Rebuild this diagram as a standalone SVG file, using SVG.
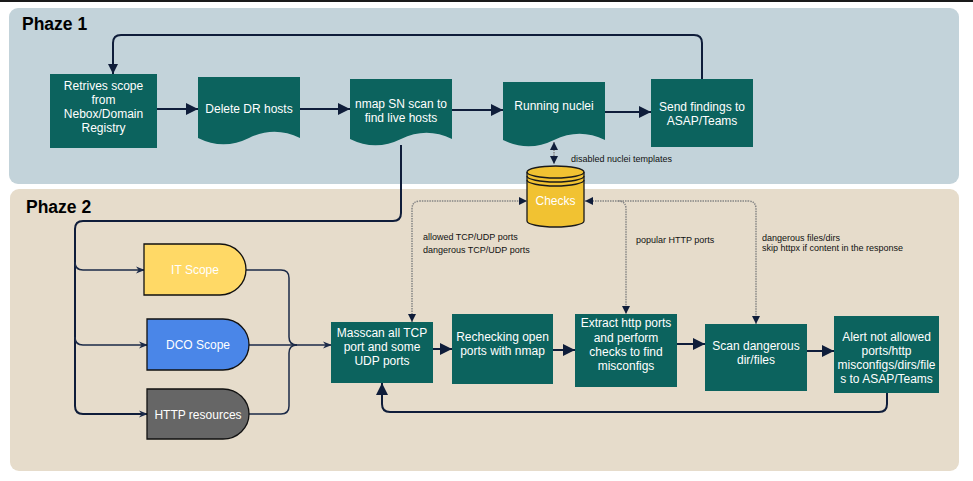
<svg xmlns="http://www.w3.org/2000/svg" width="973" height="481" viewBox="0 0 973 481">
<defs>
<style>
.lbl{font-family:"Liberation Sans",Arial,sans-serif;font-size:12px;fill:#ffffff;text-anchor:middle}
.note{font-family:"Liberation Sans",Arial,sans-serif;font-size:9px;fill:#111111}
.title{font-family:"Liberation Sans",Arial,sans-serif;font-size:17.5px;font-weight:bold;fill:#000000}
.box{fill:#0c635e}
.flow{fill:none;stroke:#0f1d3a;stroke-width:2}
.thin{fill:none;stroke:#1b2a48;stroke-width:1.5}
.dot{fill:none;stroke:#858585;stroke-width:1.5;stroke-dasharray:1.5 1}
.delay{stroke:#111111;stroke-width:1.3}
</style>
<marker id="big" viewBox="0 0 12 12" refX="12" refY="6" markerWidth="12" markerHeight="12" markerUnits="userSpaceOnUse" orient="auto">
<path d="M0,0 L12,6 L0,12 Z" fill="#0f1d3a"/>
</marker>
<marker id="mid" viewBox="0 0 10 10" refX="10" refY="5" markerWidth="10" markerHeight="10" markerUnits="userSpaceOnUse" orient="auto">
<path d="M0,0 L10,5 L0,10 Z" fill="#0f1d3a"/>
</marker>
<marker id="open" viewBox="0 0 10 10" refX="9" refY="5" markerWidth="9" markerHeight="9" markerUnits="userSpaceOnUse" orient="auto">
<path d="M0,1 L10,5 L0,9 L3,5 Z" fill="#1b2a48"/>
</marker>
<marker id="sm" viewBox="0 0 8 8" refX="8" refY="4" markerWidth="8" markerHeight="8" markerUnits="userSpaceOnUse" orient="auto-start-reverse">
<path d="M0,0 L8,4 L0,8 Z" fill="#0f1d3a"/>
</marker>
</defs>

<rect x="0" y="0" width="973" height="481" fill="#ffffff"/>
<rect x="0" y="0" width="973" height="2" fill="#1a1a1a"/>

<g id="phase1">
<rect x="9" y="8" width="950" height="176" rx="9" fill="#c3d3da"/>
<text class="title" x="22" y="30">Phaze 1</text>
</g>
<g id="phase2">
<rect x="10" y="189" width="949" height="282" rx="9" fill="#e6dccb"/>
<text class="title" x="26" y="213">Phaze 2</text>
</g>

<g id="connectors">
<!-- phase 1 -->
<path class="flow" d="M157,109 H198" marker-end="url(#big)"/>
<path class="flow" d="M300,109 H350" marker-end="url(#big)"/>
<path class="flow" d="M452,110 H503" marker-end="url(#big)"/>
<path class="flow" d="M605,112 H651" marker-end="url(#big)"/>
<path class="flow" d="M702,79 V43 Q702,35 694,35 H121 Q113,35 113,43 V74" marker-end="url(#mid)"/>
<!-- nmap to scopes -->
<path class="flow" d="M401,145 V213 Q401,221 393,221 H83 Q75,221 75,229 V406 Q75,414 83,414 H147" marker-end="url(#open)"/>
<path class="thin" d="M75,262 Q75,270 83,270 H144" marker-end="url(#open)"/>
<path class="thin" d="M75,337 Q75,345 83,345 H147" marker-end="url(#open)"/>
<!-- scopes to masscan -->
<path class="thin" d="M246,270 H281 Q289,270 289,278 V337 Q289,345 297,345"/>
<path class="thin" d="M249,414 H281 Q289,414 289,406 V353 Q289,345 297,345"/>
<path class="thin" d="M249,345 H331" marker-end="url(#open)"/>
<!-- phase 2 flow -->
<path class="flow" d="M433,349 H452" marker-end="url(#big)"/>
<path class="flow" d="M553,350 H575" marker-end="url(#big)"/>
<path class="flow" d="M677,344 H705" marker-end="url(#big)"/>
<path class="flow" d="M807,351 H834" marker-end="url(#big)"/>
<path class="flow" d="M887,393 V404 Q887,412 879,412 H390 Q382,412 382,404 V383" marker-end="url(#big)"/>
<!-- checks dotted -->
<path class="dot" d="M554,142 V164" marker-start="url(#sm)" marker-end="url(#sm)"/>
<path class="dot" d="M412,322 V209 Q412,201 420,201 H527" marker-start="url(#sm)" marker-end="url(#sm)"/>
<path class="dot" d="M585,201 H748 Q756,201 756,209 V324" marker-start="url(#sm)" marker-end="url(#sm)"/>
<path class="dot" d="M618,201 Q626,201 626,209 V314" marker-end="url(#sm)"/>
<text class="note" x="571" y="162">disabled nuclei templates</text>
<text class="note" x="423" y="240">allowed TCP/UDP ports</text>
<text class="note" x="423" y="253">dangerous TCP/UDP ports</text>
<text class="note" x="636" y="243">popular HTTP ports</text>
<text class="note" x="762" y="241">dangerous files/dirs</text>
<text class="note" x="762" y="251">skip httpx if content in the response</text>
</g>

<g id="retrieve">
<rect class="box" x="50" y="74" width="107" height="74"/>
<text class="lbl" x="103.5" y="90">Retrives scope</text>
<text class="lbl" x="103.5" y="104">from</text>
<text class="lbl" x="103.5" y="118">Nebox/Domain</text>
<text class="lbl" x="103.5" y="132">Registry</text>
</g>
<g id="delete-dr">
<path class="box" d="M198,77 H300 V138 Q274.5,125.4 249,138 Q223.5,150.6 198,138 Z"/>
<text class="lbl" x="249" y="113">Delete DR hosts</text>
</g>
<g id="nmap-sn">
<path class="box" d="M350,79 H452 V139 Q426.5,126.4 401,139 Q375.5,151.6 350,139 Z"/>
<text class="lbl" x="401" y="108">nmap SN scan to</text>
<text class="lbl" x="401" y="122">find live hosts</text>
</g>
<g id="nuclei">
<path class="box" d="M503,82 H605 V140 Q579.5,127.4 554,140 Q528.5,152.6 503,140 Z"/>
<text class="lbl" x="554" y="110">Running nuclei</text>
</g>
<g id="send-findings">
<rect class="box" x="651" y="79" width="102" height="68"/>
<text class="lbl" x="702" y="111">Send findings to</text>
<text class="lbl" x="702" y="125">ASAP/Teams</text>
</g>

<g id="checks">
<path d="M527,172 A28.5,6 0 0 1 584,172 V221 A28.5,6 0 0 1 527,221 Z" fill="#f1c232" stroke="#1a1a1a" stroke-width="1.3"/>
<path d="M527,172 A28.5,6 0 0 0 584,172 M527,176 A28.5,6 0 0 0 584,176 M527,180 A28.5,6 0 0 0 584,180" fill="none" stroke="#1a1a1a" stroke-width="1.3"/>
<text class="lbl" x="555.5" y="205">Checks</text>
</g>

<g id="it-scope">
<path class="delay" d="M144,244 H220 A26,25.5 0 0 1 220,295 H144 Z" fill="#ffd966"/>
<text class="lbl" x="195" y="274">IT Scope</text>
</g>
<g id="dco-scope">
<path class="delay" d="M147,319 H223 A26,25.5 0 0 1 223,370 H147 Z" fill="#4a86e8"/>
<text class="lbl" x="198" y="349">DCO Scope</text>
</g>
<g id="http-resources">
<path class="delay" d="M147,389 H223 A26,25 0 0 1 223,439 H147 Z" fill="#666666"/>
<text class="lbl" x="198" y="419">HTTP resources</text>
</g>

<g id="masscan">
<rect class="box" x="331" y="322" width="102" height="61"/>
<text class="lbl" x="382" y="337">Masscan all TCP</text>
<text class="lbl" x="382" y="351">port and some</text>
<text class="lbl" x="382" y="365">UDP ports</text>
</g>
<g id="recheck">
<rect class="box" x="452" y="314" width="101" height="70"/>
<text class="lbl" x="502.5" y="341">Rechecking open</text>
<text class="lbl" x="502.5" y="355">ports with nmap</text>
</g>
<g id="extract">
<rect class="box" x="575" y="314" width="102" height="73"/>
<text class="lbl" x="626" y="327">Extract http ports</text>
<text class="lbl" x="626" y="342">and perform</text>
<text class="lbl" x="626" y="356">checks to find</text>
<text class="lbl" x="626" y="370">misconfigs</text>
</g>
<g id="scan-dirs">
<rect class="box" x="705" y="324" width="102" height="67"/>
<text class="lbl" x="756" y="350">Scan dangerous</text>
<text class="lbl" x="756" y="364">dir/files</text>
</g>
<g id="alert">
<rect class="box" x="834" y="316" width="105" height="77"/>
<text class="lbl" x="886.5" y="341">Alert not allowed</text>
<text class="lbl" x="886.5" y="355">ports/http</text>
<text class="lbl" x="886.5" y="369">misconfigs/dirs/file</text>
<text class="lbl" x="886.5" y="383">s to ASAP/Teams</text>
</g>
</svg>
